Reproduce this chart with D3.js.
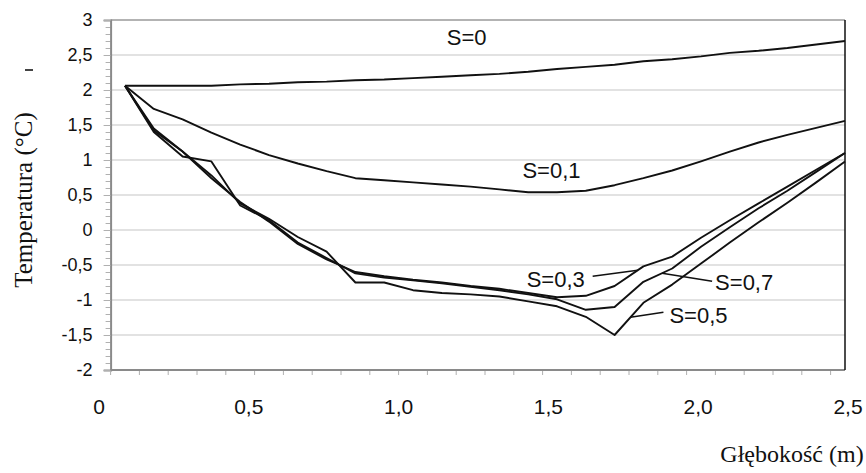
<!DOCTYPE html>
<html>
<head>
<meta charset="utf-8">
<script src="https://cdn.jsdelivr.net/npm/d3@7"></script>
<style>
  body { margin: 0; background: #fff; }
  svg { display: block; }
</style>
</head>
<body>
<svg id="chart" width="866" height="473"></svg>
<script>
// depth categories (m), one per measurement point
const depths = [0.1, 0.2, 0.3, 0.4, 0.5, 0.6, 0.7, 0.8, 0.9, 1.0, 1.1, 1.2, 1.3,
                1.4, 1.5, 1.6, 1.7, 1.8, 1.9, 2.0, 2.1, 2.2, 2.3, 2.4, 2.5, 2.6];

// temperature (°C) for each S
const tempS0  = [2.06, 2.06, 2.06, 2.06, 2.08, 2.09, 2.11, 2.12, 2.14, 2.15, 2.17, 2.19, 2.21,
                 2.23, 2.26, 2.30, 2.33, 2.36, 2.41, 2.44, 2.48, 2.53, 2.56, 2.60, 2.65, 2.70];
const tempS01 = [2.06, 1.73, 1.58, 1.39, 1.22, 1.07, 0.95, 0.84, 0.74, 0.71, 0.68, 0.65, 0.62,
                 0.58, 0.54, 0.54, 0.56, 0.64, 0.74, 0.85, 0.98, 1.12, 1.25, 1.36, 1.46, 1.56];
const tempS03 = [2.06, 1.45, 1.12, 0.74, 0.40, 0.12, -0.20, -0.42, -0.60, -0.66, -0.71, -0.75, -0.80,
                 -0.84, -0.90, -0.96, -0.94, -0.80, -0.52, -0.38, -0.11, 0.14, 0.38, 0.62, 0.86, 1.10];
const tempS05 = [2.06, 1.42, 1.12, 0.78, 0.38, 0.16, -0.10, -0.31, -0.75, -0.75, -0.86, -0.90, -0.92,
                 -0.95, -1.02, -1.09, -1.24, -1.50, -1.04, -0.78, -0.48, -0.18, 0.11, 0.39, 0.68, 0.98];
const tempS07 = [2.06, 1.40, 1.05, 0.98, 0.35, 0.14, -0.18, -0.40, -0.62, -0.68, -0.72, -0.76, -0.81,
                 -0.86, -0.92, -0.99, -1.14, -1.10, -0.74, -0.55, -0.24, 0.04, 0.31, 0.56, 0.83, 1.10];

const yTicks = [-2, -1.5, -1, -0.5, 0, 0.5, 1, 1.5, 2, 2.5, 3];
const xTickLabels = [0, 0.5, 1.0, 1.5, 2.0, 2.5];

const series = [
  { name: "S=0",   values: tempS0 },
  { name: "S=0,1", values: tempS01 },
  { name: "S=0,3", values: tempS03 },
  { name: "S=0,5", values: tempS05 },
  { name: "S=0,7", values: tempS07 }
];

// label placement: anchor (fractional category index) + offsets, leader optional
const labelSpecs = [
  { name: "S=0",   at: 11.9, dx: -21, baseline: 45, leader: false },
  { name: "S=0,1", at: 13.8, dx: 0,   baseline: 178, leader: false },
  { name: "S=0,3", at: 17.8, dx: -111, baseline: 287, leader: true, lx: -45, ly: 6 },
  { name: "S=0,7", at: 18.65, dx: 53, baseline: 290, leader: true, lx: 50, ly: 8 },
  { name: "S=0,5", at: 17.55, dx: 39, baseline: 323, leader: true, lx: 33, ly: -5 }
];

const plot = { left: 110.6, right: 845, top: 20, bottom: 370 };
const catStep = 28.8;
const fmt = d => String(d).replace(".", ",");
const sans = "Liberation Sans, Arial, sans-serif";
const serif = "Liberation Serif, Times New Roman, serif";

const svg = d3.select("#chart");

const x = d3.scaleBand()
  .domain(depths)
  .range([plot.left, plot.left + catStep * depths.length]);
const xc = i => x(depths[i]) + x.bandwidth() / 2;
const xAt = t => {
  const i = Math.floor(t), f = t - i;
  return xc(i) + f * catStep;
};
const y = d3.scaleLinear().domain([-2, 3]).range([plot.bottom, plot.top]);
const xLab = d3.scaleLinear().domain([0, 2.5]).range([99, 848]);

// gridlines
svg.append("g")
  .selectAll("line")
  .data(yTicks.filter(v => v > -2))
  .join("line")
    .attr("x1", plot.left).attr("x2", plot.right)
    .attr("y1", d => y(d)).attr("y2", d => y(d))
    .attr("stroke", d => d === 3 ? "#9a9a9a" : "#d9d9d9")
    .attr("stroke-width", 1.5);

// minor y ticks
const minor = d3.range(-20, 31).map(v => v / 10);
svg.append("g")
  .attr("transform", `translate(${plot.left},0)`)
  .call(d3.axisLeft(y).tickValues(minor).tickSize(5).tickFormat(""))
  .call(g => g.select(".domain").remove())
  .call(g => g.selectAll("line").attr("stroke", "#b0b0b0"));

// y axis
svg.append("g")
  .attr("transform", `translate(${plot.left},0)`)
  .call(d3.axisLeft(y).tickValues(yTicks).tickSize(7).tickPadding(11).tickFormat(fmt))
  .call(g => g.select(".domain").attr("stroke", "#8a8a8a").attr("stroke-width", 2))
  .call(g => g.selectAll(".tick line").attr("stroke", "#b0b0b0"))
  .call(g => g.selectAll("text")
    .attr("font-family", sans)
    .attr("font-size", 18).attr("fill", "#111"));

// x axis: category boundaries as ticks
const bounds = depths.map(d => x(d));
svg.append("g")
  .selectAll("line")
  .data(bounds.filter(b => b < plot.right))
  .join("line")
    .attr("x1", d => d).attr("x2", d => d)
    .attr("y1", plot.bottom).attr("y2", plot.bottom + 5)
    .attr("stroke", "#b0b0b0");
svg.append("line")
  .attr("x1", plot.left).attr("x2", plot.right)
  .attr("y1", plot.bottom).attr("y2", plot.bottom)
  .attr("stroke", "#8a8a8a").attr("stroke-width", 2);

// right border
svg.append("line")
  .attr("x1", plot.right).attr("x2", plot.right)
  .attr("y1", plot.top).attr("y2", plot.bottom)
  .attr("stroke", "#111").attr("stroke-width", 1.5);

// x tick labels
svg.append("g")
  .selectAll("text")
  .data(xTickLabels)
  .join("text")
    .attr("x", d => xLab(d))
    .attr("y", 414)
    .attr("text-anchor", "middle")
    .attr("font-family", sans)
    .attr("font-size", 21).attr("fill", "#111")
    .text(d => d === 0 ? "0" : d3.format(".1f")(d).replace(".", ","));

// series lines
const line = d3.line()
  .x((d, i) => xc(i))
  .y(d => y(d));
svg.append("g")
  .selectAll("path")
  .data(series)
  .join("path")
    .attr("d", d => line(d.values))
    .attr("fill", "none")
    .attr("stroke", "#111")
    .attr("stroke-width", 1.9)
    .attr("stroke-linejoin", "round");

// series labels with leaders
const valueAt = (vals, t) => {
  const i = Math.floor(t), f = t - i;
  return vals[i] + f * ((vals[i + 1] ?? vals[i]) - vals[i]);
};
const lab = svg.append("g");
labelSpecs.forEach(s => {
  const ser = series.find(d => d.name === s.name);
  const px = xAt(s.at);
  const py = y(valueAt(ser.values, s.at));
  lab.append("text")
    .attr("x", px + s.dx)
    .attr("y", s.baseline)
    .attr("font-family", sans)
    .attr("font-size", 22).attr("fill", "#111")
    .text(s.name);
  if (s.leader) {
    lab.append("line")
      .attr("x1", px).attr("y1", py)
      .attr("x2", px + s.lx).attr("y2", py + s.ly)
      .attr("stroke", "#111").attr("stroke-width", 1.5);
  }
});

// axis titles
svg.append("text")
  .attr("transform", "translate(32,200) rotate(-90)")
  .attr("text-anchor", "middle")
  .attr("font-family", serif)
  .attr("font-size", 25).attr("fill", "#111")
  .text("Temperatura (°C)");

svg.append("text")
  .attr("x", 792)
  .attr("y", 462)
  .attr("text-anchor", "middle")
  .attr("font-family", serif)
  .attr("font-size", 24).attr("fill", "#111")
  .text("Głębokość (m)");

// small stray mark left of the axis title
svg.append("line")
  .attr("x1", 25).attr("x2", 33).attr("y1", 70).attr("y2", 70)
  .attr("stroke", "#444").attr("stroke-width", 2);
</script>
</body>
</html>
